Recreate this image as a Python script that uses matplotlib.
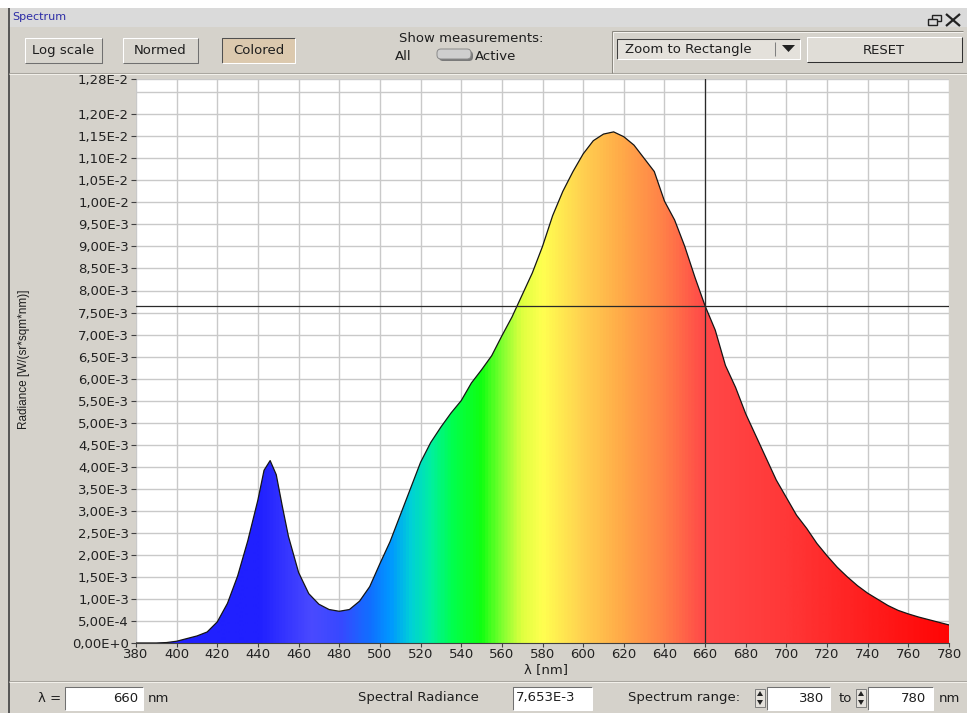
import numpy as np
import matplotlib
matplotlib.use('Agg')
import matplotlib.pyplot as plt
from matplotlib.colors import LinearSegmentedColormap
from matplotlib.patches import Rectangle, FancyBboxPatch, Polygon
from matplotlib.ticker import FuncFormatter

# measured spectrum (nm, W/(sr*sqm*nm))
wavelength = [380, 385, 390, 395, 400, 405, 410, 415, 420, 425, 430, 435, 440, 443, 446,
              449, 452, 455, 460, 465, 470, 475, 480, 485, 490, 495, 500, 505, 510, 515,
              520, 525, 530, 535, 540, 545, 550, 555, 560, 565, 570, 575, 580, 585, 590,
              595, 600, 605, 610, 615, 620, 625, 630, 635, 640, 645, 650, 655, 660, 665,
              670, 675, 680, 685, 690, 695, 700, 705, 710, 715, 720, 725, 730, 735, 740,
              745, 750, 755, 760, 765, 770, 775, 780]
radiance = [0.0, 0.0, 0.0, 0.00001, 0.00004, 0.0001, 0.00016, 0.00025, 0.00048, 0.0009,
            0.00152, 0.00232, 0.00325, 0.00392, 0.00414, 0.00382, 0.0031, 0.00242, 0.0016,
            0.00112, 0.00088, 0.00076, 0.00072, 0.00076, 0.00095, 0.00128, 0.0018, 0.0023,
            0.0029, 0.0035, 0.0041, 0.00455, 0.0049, 0.00522, 0.0055, 0.0059, 0.0062,
            0.00652, 0.00697, 0.0074, 0.0079, 0.0084, 0.009, 0.0097, 0.01025, 0.0107,
            0.0111, 0.0114, 0.01155, 0.0116, 0.01149, 0.0113, 0.011, 0.0107, 0.01003,
            0.0096, 0.009, 0.0083, 0.00765, 0.0071, 0.0063, 0.0058, 0.0052, 0.0047,
            0.0042, 0.0037, 0.0033, 0.0029, 0.0026, 0.00226, 0.00198, 0.00172, 0.0015,
            0.0013, 0.00113, 0.00099, 0.00085, 0.00074, 0.00066, 0.00059, 0.00053,
            0.00047, 0.00041]

cursor_nm = 660
cursor_value = 7.653e-3
range_from, range_to = 380, 780

x_ticks = list(range(380, 781, 20))
y_ticks = [round(k * 0.0005, 6) for k in range(25)] + [0.0128]
y_top = 0.0128

# colours used for the "Colored" fill, by wavelength
spectrum_stops = [(380, '#2020ff'), (440, '#2020ff'), (466, '#4a4aff'), (480, '#3848ff'),
                  (495, '#1070ff'), (505, '#0098ff'), (515, '#00d0d8'), (525, '#00f0a0'),
                  (535, '#00ff50'), (550, '#10ff10'), (560, '#80ff30'), (570, '#e0ff40'),
                  (580, '#ffff50'), (600, '#ffd050'), (620, '#ffa848'), (640, '#ff8048'),
                  (660, '#ff4848'), (700, '#ff3838'), (780, '#ff0505')]

W, H = 967, 713
UI_FONT = 'DejaVu Sans'
UI_SIZE = 9.5
TXT = '#1e1e1e'
BG = '#d5d2cb'


def sci_text(v, digits=2):
    if v == 0:
        return '0,' + '0' * digits + 'E+0'
    e = int(np.floor(np.log10(v) + 1e-9))
    m = v / 10 ** e
    return f'{m:.{digits}f}'.replace('.', ',') + f'E{e:+d}'


fig = plt.figure(figsize=(W / 100, H / 100), dpi=100, facecolor=BG)

# window chrome, drawn in pixel coordinates
bg = fig.add_axes([0, 0, 1, 1], zorder=0)
bg.set_xlim(0, W)
bg.set_ylim(H, 0)
bg.axis('off')


def line(xs, ys, color, lw=0.75):
    bg.plot(xs, ys, color=color, lw=lw, solid_capstyle='butt')


def box(x0, y0, x1, y1, face, sunken=False, light='#ffffff', dark='#707070'):
    bg.add_patch(Rectangle((x0, y0), x1 - x0, y1 - y0, facecolor=face, edgecolor='none'))
    tl, br = (dark, light) if sunken else (light, dark)
    line([x0, x0, x1], [y1, y0, y0], tl)
    line([x0, x1, x1], [y1, y1, y0], br)


def label(x, y, s, ha='left', size=UI_SIZE, color=TXT, **kw):
    bg.text(x, y, s, ha=ha, va='center', fontsize=size, color=color, family=UI_FONT, **kw)


bg.add_patch(Rectangle((0, 0), W, 8, facecolor='white', edgecolor='none'))
bg.add_patch(Rectangle((8, 8), W - 8, 19, facecolor='#dadada', edgecolor='none'))
label(12, 17, 'Spectrum', size=8, color='#2b2ba6')
# restore / close icons
bg.add_patch(Rectangle((932, 15), 9, 6, facecolor='none', edgecolor='#222222', lw=1.0))
bg.add_patch(Rectangle((928, 19), 9, 6, facecolor='#dadada', edgecolor='#222222', lw=1.0))
line([946, 960], [14, 26], '#222222', lw=1.6)
line([946, 960], [26, 14], '#222222', lw=1.6)
line([8.5, 8.5], [8, H], '#404040', lw=1.2)
line([9, W], [73, 73], '#a9a69f')
line([9, W], [74, 74], '#f2f0ea')
line([9, W], [681, 681], '#a9a69f')
line([9, W], [682, 682], '#f2f0ea')

# toolbar buttons
box(25, 38, 102, 63, '#d8d5ce')
label(63.5, 50.5, 'Log scale', ha='center')
box(123, 38, 198, 63, '#d8d5ce')
label(160.5, 50.5, 'Normed', ha='center')
box(222, 38, 295, 63, '#dcc9ae', sunken=True, dark='#505050')
label(258.5, 50.5, 'Colored', ha='center')

label(471, 38, 'Show measurements:', ha='center')
label(395, 56.5, 'All')
label(475, 56.5, 'Active')
bg.add_patch(FancyBboxPatch((441, 53), 30, 6, boxstyle='round,pad=2,rounding_size=4',
                            facecolor='#7a7a7a', edgecolor='none'))
bg.add_patch(FancyBboxPatch((439, 51), 30, 6, boxstyle='round,pad=2,rounding_size=4',
                            facecolor='#cfcfcf', edgecolor='#8a8a8a', lw=0.7))

# zoom group
line([612, 963], [31, 31], '#8a877f')
line([612, 612], [31, 73], '#8a877f')
line([613, 963], [32, 32], '#f4f2ee')
line([613, 613], [32, 72], '#f4f2ee')
box(617, 39, 800, 59, '#e4e1db', sunken=True, dark='#404040')
label(625, 49, 'Zoom to Rectangle')
line([775, 775], [42, 56], '#808080')
bg.add_patch(Polygon([(782, 45), (795, 45), (788.5, 52)], closed=True,
                     facecolor='#222222', edgecolor='none'))
box(807, 37, 962, 62, '#e0ddd7', dark='#303030')
label(884, 50, 'RESET', ha='center')

# status row
label(38, 698, 'λ =')
box(65, 687, 143, 710, 'white', sunken=True)
label(138, 698, f'{cursor_nm}', ha='right')
label(148, 698, 'nm')
label(358, 698, 'Spectral Radiance')
box(513, 687, 592, 710, 'white', sunken=True)
label(516, 698, sci_text(cursor_value, 3))
label(628, 698, 'Spectrum range:')


def spinner(x, y):
    bg.add_patch(Rectangle((x, y - 9), 10, 18, facecolor='#e4e1db', edgecolor='#707070', lw=0.6))
    bg.add_patch(Polygon([(x + 2, y - 2), (x + 8, y - 2), (x + 5, y - 7)], facecolor='#222222'))
    bg.add_patch(Polygon([(x + 2, y + 2), (x + 8, y + 2), (x + 5, y + 7)], facecolor='#222222'))


spinner(755, 698)
box(767, 687, 830, 710, 'white', sunken=True)
label(824, 698, f'{range_from}', ha='right')
label(839, 698, 'to')
spinner(856, 698)
box(868, 687, 933, 710, 'white', sunken=True)
label(926, 698, f'{range_to}', ha='right')
label(939, 698, 'nm')

# spectrum plot
ax = fig.add_axes([136 / W, (H - 643) / H, 813 / W, 564 / H], zorder=1)
ax.set_facecolor('white')

cmap = LinearSegmentedColormap.from_list(
    'spectrum', [((w - 380) / 400, c) for w, c in spectrum_stops])
gradient = cmap(np.linspace(0, 1, 801))[None, :, :]

outline = Polygon(list(zip(wavelength, radiance)) + [(780, 0), (380, 0)], closed=True,
                  facecolor='none', edgecolor='none', transform=ax.transData)
ax.add_patch(outline)
im = ax.imshow(gradient, extent=[380, 780, 0, y_top], aspect='auto', origin='lower',
               interpolation='bilinear', zorder=2)
im.set_clip_path(outline)
ax.plot(wavelength, radiance, color='#151515', lw=0.9, zorder=3)

# cursor cross
ax.axvline(cursor_nm, color='#2a2a2a', lw=0.9, zorder=4)
ax.axhline(cursor_value, color='#2a2a2a', lw=0.9, zorder=4)

ax.set_xlim(380, 780)
ax.set_ylim(0, y_top)
ax.set_xticks(x_ticks)
ax.set_yticks(y_ticks)
ax.set_yticks([0.0125], minor=True)
ax.yaxis.set_major_formatter(FuncFormatter(lambda v, pos: sci_text(v)))
ax.set_axisbelow(True)
ax.grid(True, which='both', color='#c9c9c9', lw=1.0)
ax.tick_params(axis='both', which='major', direction='out', length=3.5, width=0.8,
               color='#404040', labelsize=UI_SIZE, labelcolor='#222222', pad=1.5)
ax.tick_params(axis='x', which='major', length=3, pad=0.5)
ax.tick_params(axis='y', which='minor', length=0)
for lab in ax.get_xticklabels() + ax.get_yticklabels():
    lab.set_family(UI_FONT)
for side in ['top', 'right', 'left']:
    ax.spines[side].set_visible(False)
ax.spines['bottom'].set_color('#404040')

ax.set_xlabel('λ [nm]', fontsize=UI_SIZE, color=TXT, family=UI_FONT)
ax.xaxis.set_label_coords((546 - 136) / 813, -(663 - 643) / 564)
ax.set_ylabel('Radiance [W/(sr*sqm*nm)]', fontsize=8.5, color=TXT, family='Liberation Sans')
ax.yaxis.set_label_coords((30 - 136) / 813, (643 - 359) / 564)

fig.savefig('out.png', dpi=100, facecolor=BG)
